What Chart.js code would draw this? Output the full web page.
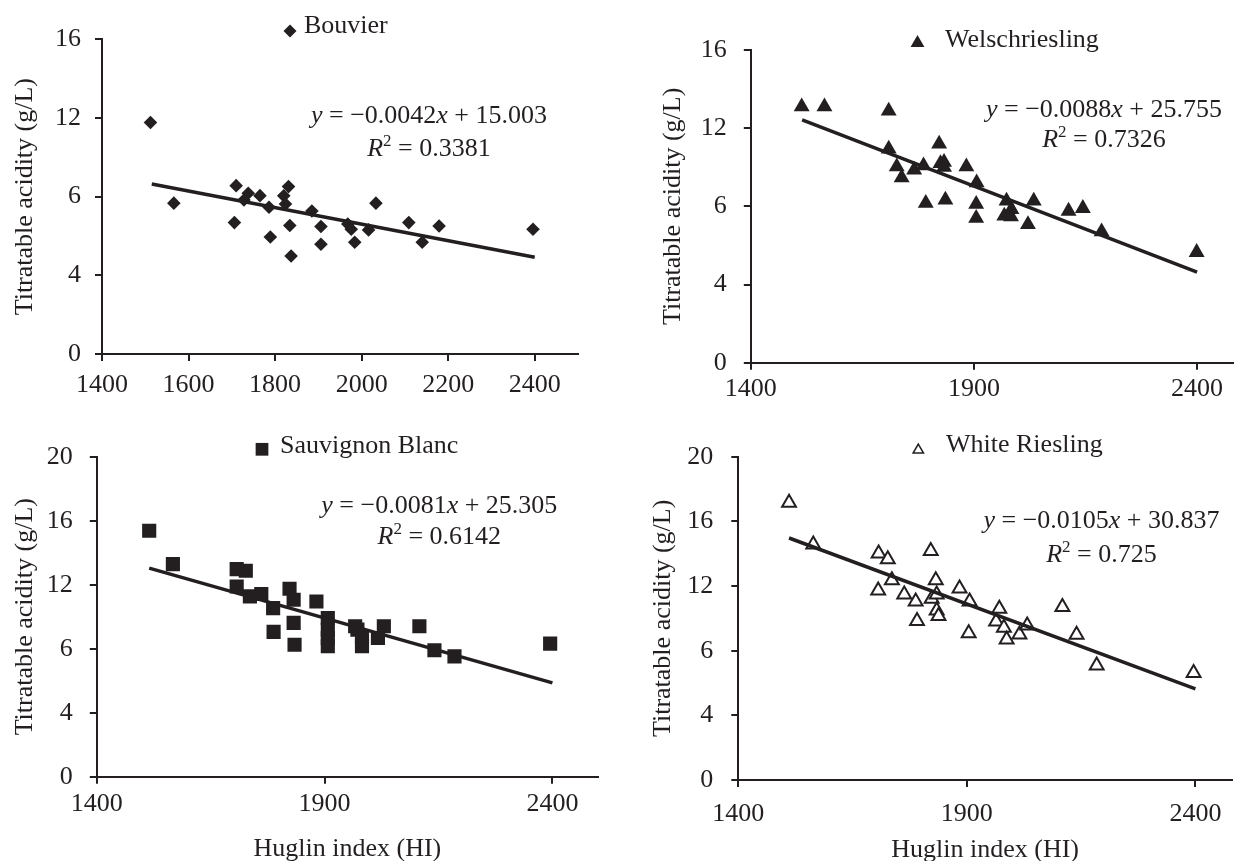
<!DOCTYPE html>
<html>
<head>
<meta charset="utf-8">
<script src="https://cdn.jsdelivr.net/npm/chart.js@4.4.1/dist/chart.umd.min.js"></script>
<style>
  html, body { margin: 0; padding: 0; background: #fff; overflow: hidden; }
  body { width: 1242px; height: 861px; position: relative; }
  canvas { position: absolute; }
</style>
</head>
<body>
<canvas id="c1" width="620" height="400" style="left:0;top:0"></canvas>
<canvas id="c2" width="622" height="400" style="left:620px;top:0"></canvas>
<canvas id="c3" width="620" height="470" style="left:0;top:400px"></canvas>
<canvas id="c4" width="622" height="470" style="left:620px;top:400px"></canvas>
<script>
// cultivar names
const cultivars = ['Bouvier', 'Welschriesling', 'Sauvignon Blanc', 'White Riesling'];

// Huglin index (x) and titratable acidity in g/L (y)
const bouvierHI = [1512, 1566, 1710, 1706, 1738, 1728, 1765, 1786, 1789, 1820, 1824, 1831, 1834, 1837, 1885, 1906, 1906, 1968, 1976, 1984, 2016, 2033, 2109, 2140, 2179, 2396];
const bouvierTA = [11.77, 7.67, 8.56, 6.68, 8.17, 7.83, 8.05, 7.46, 5.95, 8.04, 7.63, 8.51, 6.53, 4.98, 7.27, 6.48, 5.58, 6.61, 6.34, 5.68, 6.31, 7.67, 6.68, 5.68, 6.51, 6.34];

const welschHI = [1514, 1565, 1709, 1709, 1727, 1738, 1766, 1787, 1792, 1822, 1825, 1833, 1833, 1836, 1883, 1906, 1905, 1905, 1973, 1968, 1984, 1983, 2021, 2034, 2112, 2144, 2186, 2399];
const welschTA = [13.10, 13.10, 12.88, 10.94, 10.03, 9.47, 9.86, 10.08, 8.16, 11.19, 10.20, 10.26, 10.00, 8.33, 10.03, 9.21, 8.11, 7.39, 8.28, 7.51, 7.85, 7.47, 7.08, 8.28, 7.76, 7.90, 6.70, 5.65];

const sauvHI = [1515, 1567, 1707, 1727, 1707, 1736, 1761, 1787, 1788, 1823, 1832, 1832, 1834, 1882, 1907, 1907, 1907, 1907, 1967, 1972, 1982, 1982, 2017, 2030, 2108, 2141, 2185, 2395];
const sauvTA = [15.37, 13.29, 12.97, 12.87, 11.89, 11.27, 11.42, 10.54, 9.05, 11.75, 11.06, 9.61, 8.25, 10.95, 9.92, 9.19, 8.67, 8.15, 9.40, 9.19, 8.73, 8.15, 8.67, 9.40, 9.40, 7.90, 7.52, 8.32];

const rieslingHI = [1511, 1564, 1707, 1727, 1706, 1736, 1763, 1788, 1791, 1821, 1823, 1832, 1834, 1834, 1838, 1884, 1906, 1904, 1971, 1964, 1981, 1987, 2015, 2032, 2109, 2140, 2184, 2396];
const rieslingTA = [17.15, 14.57, 14.01, 13.66, 11.73, 12.35, 11.48, 11.05, 9.83, 14.17, 11.22, 12.35, 11.48, 10.49, 10.14, 11.84, 11.05, 9.08, 10.60, 9.81, 9.42, 8.69, 9.00, 9.56, 10.70, 8.98, 7.08, 6.62];

// linear fits as printed on the chart
const trendSlope = [-0.0042, -0.0088, -0.0081, -0.0105];
const trendIntercept = [15.003, 25.755, 25.305, 30.837];
const rSquared = ['0.3381', '0.7326', '0.6142', '0.725'];
const trendFrom = [1515, 1515, 1515, 1511];
const trendTo = [2400, 2400, 2400, 2400];

// ticks
const xTicksTopLeft = [1400, 1600, 1800, 2000, 2200, 2400];
const xTicksOther = [1400, 1900, 2400];
const yTicksTop = [0, 4, 8, 12, 16];
const yLabelsTop = ['0', '4', '6', '12', '16'];
const yTicksBottom = [0, 4, 8, 12, 16, 20];
const yLabelsBottom = ['0', '4', '6', '12', '16', '20'];

const FONT = "'Liberation Serif', 'Times New Roman', serif";
const INK = '#231f20';

function drawMarker(ctx, style, r, fill, bw, x, y) {
  ctx.fillStyle = fill;
  ctx.strokeStyle = INK;
  ctx.lineWidth = bw;
  if (Chart.helpers && Chart.helpers.drawPoint) {
    Chart.helpers.drawPoint(ctx, { pointStyle: style, radius: r, borderWidth: bw, rotation: 0 }, x, y);
  }
}

function drawRuns(ctx, runs, cx, base) {
  const fontOf = r => r.sup ? `17px ${FONT}` : (r.it ? `italic 26px ${FONT}` : `26px ${FONT}`);
  let w = 0;
  runs.forEach(r => { ctx.font = fontOf(r); w += ctx.measureText(r.t).width; });
  let x = cx - w / 2;
  runs.forEach(r => {
    ctx.font = fontOf(r);
    ctx.fillText(r.t, x, base - (r.sup ? 10 : 0));
    x += ctx.measureText(r.t).width;
  });
}

function annotPlugin(i, p) {
  return {
    id: 'annot' + i,
    afterDraw(chart) {
      const ctx = chart.ctx;
      ctx.save();
      drawMarker(ctx, p.style, p.legR, p.fill, p.legBw, p.legX, p.legY);
      ctx.fillStyle = INK;
      ctx.textAlign = 'left';
      ctx.textBaseline = 'alphabetic';
      ctx.font = `26px ${FONT}`;
      ctx.fillText(cultivars[i], p.legTx, p.legTy);
      const s = trendSlope[i], b = trendIntercept[i];
      drawRuns(ctx, [
        { t: 'y', it: true },
        { t: ' = ' + (s < 0 ? '\u2212' : '') + Math.abs(s).toFixed(4) },
        { t: 'x', it: true },
        { t: ' + ' + b.toFixed(3) }
      ], p.eqX, p.eqY1);
      drawRuns(ctx, [
        { t: 'R', it: true },
        { t: '2', sup: true },
        { t: ' = ' + rSquared[i] }
      ], p.eqX, p.eqY2);
      ctx.restore();
    }
  };
}

const panels = [
  { id: 'c1', hi: bouvierHI, ta: bouvierTA, style: 'rectRot', r: 6.8, fill: INK, bw: 0,
    legR: 6.5, legBw: 0, legX: 290, legY: 31, legTx: 304, legTy: 33, eqX: 429, eqY1: 123, eqY2: 155.5,
    top: 39.3, padRight: 42, yAxisW: 102, xAxisH: 46, xMax: 2500, xTicks: xTicksTopLeft,
    yMax: 16, yTicks: yTicksTop, yLabels: yLabelsTop, xPad: 8.4, yPad: 14, yTitlePad: 10, xTitle: false },
  { id: 'c2', hi: welschHI, ta: welschTA, style: 'triangle', r: 9.2, fill: INK, bw: 0,
    legR: 8, legBw: 0, legX: 297.5, legY: 43, legTx: 325, legTy: 46.7, eqX: 484, eqY1: 116.7, eqY2: 147.3,
    top: 50, padRight: 0, yAxisW: 130.8, xAxisH: 37.3, xMax: 2480, xTicks: xTicksOther,
    yMax: 16, yTicks: yTicksTop, yLabels: yLabelsTop, xPad: 3.7, yPad: 17, yTitlePad: 38, xTitle: false },
  { id: 'c3', hi: sauvHI, ta: sauvTA, style: 'rect', r: 10, fill: INK, bw: 0,
    legR: 9, legBw: 0, legX: 262, legY: 49.3, legTx: 280, legTy: 53, eqX: 439.3, eqY1: 113.3, eqY2: 144,
    top: 56.7, padRight: 22, yAxisW: 96.8, xAxisH: 93.3, xMax: 2500, xTicks: xTicksOther,
    yMax: 20, yTicks: yTicksBottom, yLabels: yLabelsBottom, xPad: 4.7, yPad: 17, yTitlePad: 10, xTitle: true, xTitlePad: 5.4 },
  { id: 'c4', hi: rieslingHI, ta: rieslingTA, style: 'triangle', r: 8, fill: '#ffffff', bw: 2,
    legR: 6, legBw: 1.5, legX: 298.3, legY: 50, legTx: 326, legTy: 52, eqX: 481.5, eqY1: 128.3, eqY2: 161.7,
    top: 56.7, padRight: 0, yAxisW: 118.3, xAxisH: 90, xMax: 2480, xTicks: xTicksOther,
    yMax: 20, yTicks: yTicksBottom, yLabels: yLabelsBottom, xPad: 11.4, yPad: 18, yTitlePad: 28, xTitle: true, xTitlePad: 4.4 }
];

panels.forEach((p, i) => {
  const pts = p.hi.map((x, k) => ({ x: x, y: p.ta[k] }));
  const trend = [trendFrom[i], trendTo[i]].map(x => ({ x: x, y: trendSlope[i] * x + trendIntercept[i] }));
  const tickFont = { family: FONT, size: 26 };
  new Chart(document.getElementById(p.id), {
    type: 'scatter',
    data: {
      datasets: [
        { data: trend, showLine: true, borderColor: INK, borderWidth: 3.5, pointRadius: 0, order: 0 },
        { data: pts, pointStyle: p.style, pointRadius: p.r, backgroundColor: p.fill,
          borderColor: INK, borderWidth: p.bw, order: 1 }
      ]
    },
    options: {
      responsive: false,
      animation: false,
      events: [],
      layout: { padding: { left: 0, top: p.top, right: p.padRight, bottom: 0 } },
      plugins: { legend: { display: false }, tooltip: { enabled: false } },
      scales: {
        x: {
          type: 'linear', min: 1400, max: p.xMax,
          afterBuildTicks: s => { s.ticks = p.xTicks.map(v => ({ value: v })); },
          afterFit: s => { s.height = p.xAxisH; },
          ticks: { callback: v => String(v), autoSkip: false, maxRotation: 0, font: tickFont, color: INK, padding: p.xPad },
          grid: { drawOnChartArea: false, drawTicks: true, tickLength: 7, color: INK, lineWidth: 2 },
          border: { display: true, color: INK, width: 2 },
          title: { display: p.xTitle, text: 'Huglin index (HI)', font: tickFont, color: INK,
                   padding: { top: 0, bottom: p.xTitlePad || 0 } }
        },
        y: {
          type: 'linear', min: 0, max: p.yMax,
          afterBuildTicks: s => { s.ticks = p.yTicks.map(v => ({ value: v })); },
          afterFit: s => { s.width = p.yAxisW; },
          ticks: { callback: (v, k) => p.yLabels[k], font: tickFont, color: INK, padding: p.yPad },
          grid: { drawOnChartArea: false, drawTicks: true, tickLength: 7, color: INK, lineWidth: 2 },
          border: { display: true, color: INK, width: 2 },
          title: { display: true, text: 'Titratable acidity (g/L)', font: tickFont, color: INK,
                   padding: { top: p.yTitlePad, bottom: 0 } }
        }
      }
    },
    plugins: [annotPlugin(i, p)]
  });
});
</script>
</body>
</html>
